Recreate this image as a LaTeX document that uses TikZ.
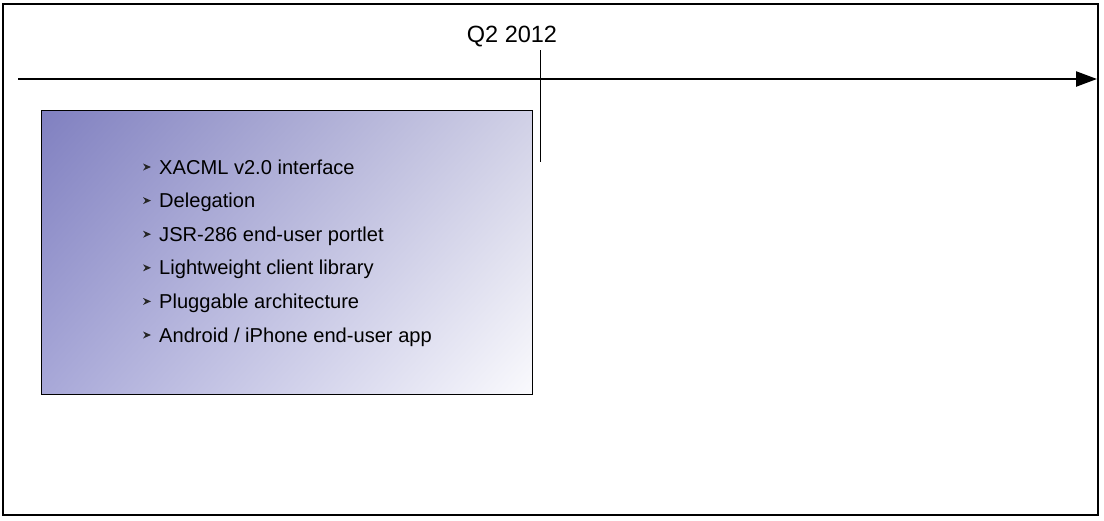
\documentclass[tikz,border=0pt]{standalone}
\usepackage{fontspec}
\setmainfont{Liberation Sans}
\usetikzlibrary{arrows.meta}
\usetikzlibrary{calc}
\usetikzlibrary{shadings}
\definecolor{color_panel_ul}{HTML}{8080C0}
\definecolor{color_panel_ur}{HTML}{D0D0E6}
\definecolor{color_panel_ll}{HTML}{A8A8D8}
\definecolor{color_panel_lr}{HTML}{FAFAFD}
\def\itemgap{33.6}
\def\itembase{174}

\begin{document}
\begin{tikzpicture}[x=1pt,y=-1pt]
        \useasboundingbox (0,0) rectangle (1104,520);
        % outer frame
        \draw[black,line width=1.5pt] (3,4) rectangle (1098,515);

        % shaded panel
        \node[draw,line width=0.9pt,inner sep=0pt,minimum width=491pt,minimum height=284pt,
              upper left=color_panel_ul,upper right=color_panel_ur,
              lower left=color_panel_ll,lower right=color_panel_lr,anchor=north west] (panel) at (41,110) {};

        % timeline
        \coordinate (tstart) at (18,79);
        \coordinate (tend) at (1097,79);
        \draw[line width=2.4pt,-{Triangle[length=21pt,width=15pt]}] (tstart) -- (tend);

        % milestone
        \node[font=\fontsize{23.5}{28}\selectfont,anchor=base] (q2) at (512,42) {Q2 2012};
        \coordinate (ttop) at (540,50);
        \coordinate (tbot) at (540,162);
        \draw[line width=0.9pt] (ttop) -- (tbot);

        % items
        \foreach \txt [count=\i from 0] in {XACML v2.0 interface, Delegation, JSR-286 end-user portlet,
                Lightweight client library, Pluggable architecture, Android / iPhone end-user app}
        {
            \node[anchor=base west,inner sep=0pt,font=\fontsize{20.1}{24}\selectfont] (item\i) at (159,\itembase+\i*\itemgap) {\txt};
            \fill[black!85] ($(item\i.base west)+(-16,-10.5)$) -- ++(8,3.5) -- ++(-8,3.5) -- ++(2.5,-3.5) -- cycle;
        }
    \end{tikzpicture}
\end{document}
